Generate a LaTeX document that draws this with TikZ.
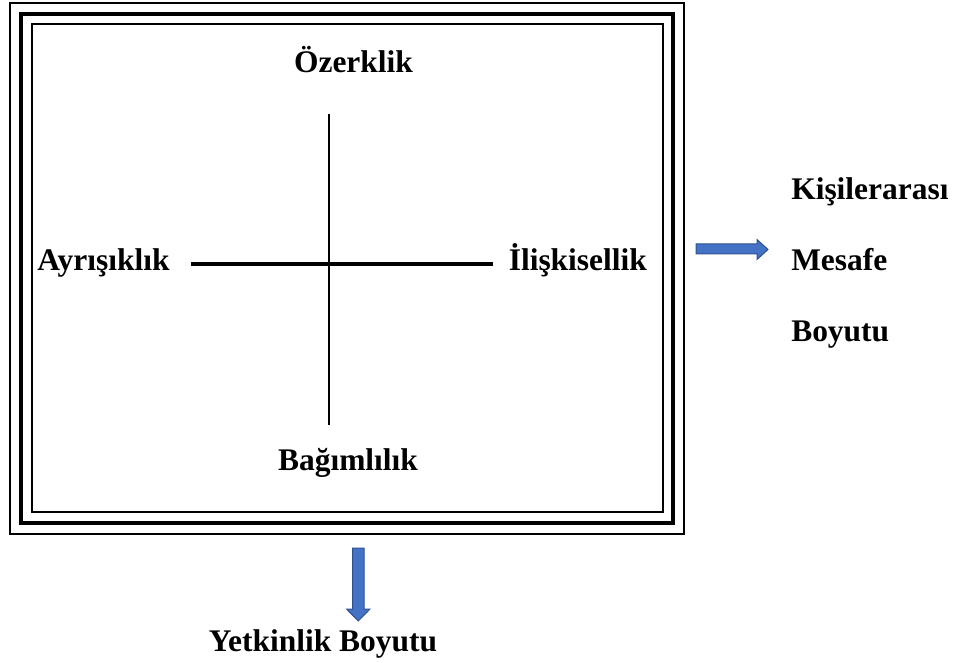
\documentclass[tikz,border=0pt]{standalone}
\usepackage{fontspec}
\setmainfont{Liberation Serif}
\usetikzlibrary{positioning}

\tikzset{
  lbl/.style={font=\fontsize{23.6}{28}\selectfont\bfseries, inner sep=0pt},
  axisline/.style={draw=black, line width=2.5pt},
  blockarrow/.style={draw={rgb, 255:red, 47; green, 82; blue, 143 }, line width=0.75pt, fill={rgb, 255:red, 68; green, 114; blue, 196 }, fill opacity=1}
}

\begin{document}
\begin{tikzpicture}[x=0.75pt,y=0.75pt,yscale=-1,xscale=1]
%set diagram size to 965 x 663
\useasboundingbox (0,0) rectangle (965,663);

%Shape: Rectangle [outer frame]
\draw  [line width=1.5pt]  (10,3) rectangle (684,534) ;
%Shape: Rectangle [middle frame]
\draw  [line width=3pt]  (21,14) rectangle (673,523) ;
%Shape: Rectangle [inner frame]
\draw  [line width=1.5pt]  (32,24) rectangle (663,512) ;

% Text Node
\draw (353.5,72.5) node [lbl, anchor=base] (ozerk) {Özerklik};
% Text Node
\draw (37,271) node [lbl, anchor=base west] (ayris) {Ayrışıklık};
% Text Node
\draw (508.5,271) node [lbl, anchor=base west] (iliski) {İlişkisellik};
% Text Node
\draw (348,470) node [lbl, anchor=base] (bagim) {Bağımlılık};

%Straight Lines [cross]
\coordinate (vtop) at (329,114);
\coordinate (vbot) at (329,425);
\coordinate (hlft) at (191,264);
\coordinate (hrgt) at (493,264);
\draw [axisline, line width=2.2pt] (vtop) -- (vbot) ;
\draw [axisline] (hlft) -- (hrgt) ;

%Shape: Right Arrow
\draw [blockarrow]  (696,244) -- (757,244) -- (757,239.5) -- (768,249.5) -- (757,259.5) -- (757,254) -- (696,254) -- cycle ;
%Shape: Down Arrow
\draw [blockarrow]  (352.5,548) -- (364,548) -- (364,609) -- (370,609) -- (358.25,621) -- (346.5,609) -- (352.5,609) -- cycle ;

% Text Node
\draw (791,200) node [lbl, anchor=base west] (kisi) {Kişilerarası};
% Text Node
\draw (791,271) node [lbl, anchor=base west] (mesafe) {Mesafe};
% Text Node
\draw (791,342) node [lbl, anchor=base west] (boyut) {Boyutu};
% Text Node
\draw (323,651.5) node [lbl, anchor=base] (yetkin) {Yetkinlik Boyutu};

\end{tikzpicture}
\end{document}
